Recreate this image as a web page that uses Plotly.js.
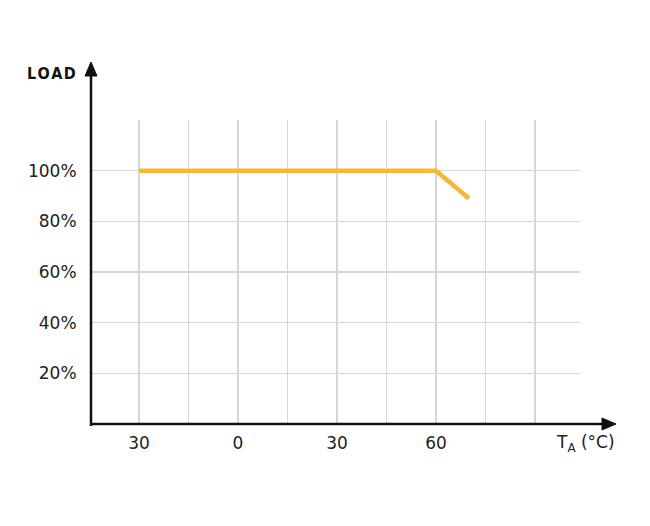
<!DOCTYPE html>
<html>
<head>
<meta charset="utf-8">
<script src="https://cdn.plot.ly/plotly-3.0.1.min.js"></script>
<style>html,body{margin:0;padding:0;background:#fff;}#chart{width:650px;height:526px;}</style>
</head>
<body>
<div id="chart"></div>
<script>
// Data
const temperature = [-30, 60, 70];
const loadPct = [100, 100, 89];
const xTickVals = [-30, 0, 30, 60];
const xTickText = ['30', '0', '30', '60'];
const xGridVals = [-30, -15, 0, 15, 30, 45, 60, 75, 90];
const yTickVals = [20, 40, 60, 80, 100];
const yTickText = ['20%', '40%', '60%', '80%', '100%'];
const yGridVals = [20, 40, 60, 80, 100, 120];

const W = 650, H = 526;
const m = {l: 91, r: 70, t: 120, b: 102};
const pw = W - m.l - m.r, ph = H - m.t - m.b;
const px = x => (x - m.l) / pw;
const py = y => (H - m.b - y) / ph;

const FONT = 'DejaVu Sans, Open Sans, sans-serif';
const GRID = '#d6d6d6';

const trace = {
  x: temperature, y: loadPct, type: 'scatter', mode: 'lines',
  line: {color: '#F7B733', width: 4.5}, hoverinfo: 'skip'
};

const shapes = [
  {type: 'line', xref: 'paper', yref: 'paper', x0: px(90), y0: 0, x1: px(606), y1: 0,
   line: {color: '#111', width: 2.5}},
  {type: 'line', xref: 'paper', yref: 'paper', x0: 0, y0: py(426), x1: 0, y1: py(72),
   line: {color: '#111', width: 2.5}},
  {type: 'path', xref: 'paper', yref: 'paper',
   path: `M ${px(602)} ${py(418)} L ${px(616)} ${py(424)} L ${px(602)} ${py(430)} Z`,
   fillcolor: '#111', line: {color: '#111', width: 1}},
  {type: 'path', xref: 'paper', yref: 'paper',
   path: `M ${px(85)} ${py(76)} L ${px(91)} ${py(62)} L ${px(97)} ${py(76)} Z`,
   fillcolor: '#111', line: {color: '#111', width: 1}}
];

const annotations = [
  {xref: 'paper', yref: 'paper', x: px(78), y: py(73), xanchor: 'right', yanchor: 'middle',
   text: 'L\u200aO\u200aA\u200aD', showarrow: false,
   font: {family: 'DejaVu Sans Condensed, DejaVu Sans', size: 16, color: '#111', weight: 'bold'}},
  {xref: 'paper', yref: 'paper', x: px(617), y: py(443), xanchor: 'right', yanchor: 'middle',
   text: 'T<sub>A</sub> (°C)', showarrow: false,
   font: {family: FONT, size: 17, color: '#222'}}
];

const layout = {
  width: W, height: H,
  margin: m,
  paper_bgcolor: '#fff', plot_bgcolor: '#fff',
  showlegend: false,
  xaxis: {
    range: [-30 - 48 / 3.3, -30 - 48 / 3.3 + pw / 3.3],
    tickvals: xTickVals, ticktext: xTickText,
    showgrid: false,
    minor: {tickvals: xGridVals, showgrid: true, gridcolor: GRID, gridwidth: 1.5, ticks: ''},
    zeroline: false, showline: false,
    ticks: 'outside', ticklen: 4, tickcolor: 'rgba(0,0,0,0)',
    tickfont: {family: FONT, size: 17, color: '#222'},
    fixedrange: true
  },
  yaxis: {
    range: [0, 120],
    tickvals: yTickVals, ticktext: yTickText,
    showgrid: false,
    minor: {tickvals: yGridVals, showgrid: true, gridcolor: GRID, gridwidth: 1.5, ticks: ''},
    zeroline: false, showline: false,
    ticks: 'outside', ticklen: 10, tickcolor: 'rgba(0,0,0,0)',
    tickfont: {family: FONT, size: 17, color: '#222'},
    fixedrange: true
  },
  shapes: shapes,
  annotations: annotations
};

Plotly.newPlot('chart', [trace], layout, {displayModeBar: false, staticPlot: true});
</script>
</body>
</html>
